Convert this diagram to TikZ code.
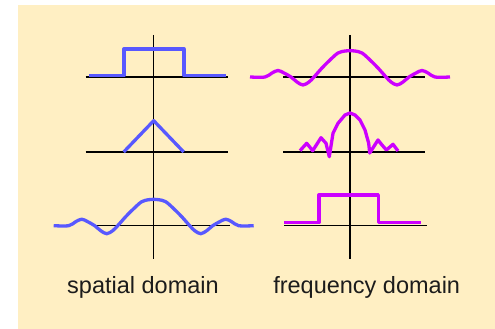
\documentclass[tikz,border=0pt]{standalone}
\usepackage{fontspec}
\setmainfont{Liberation Sans}
\usetikzlibrary{positioning}
\definecolor{creambg}{RGB}{255,239,195}
\definecolor{spatialblue}{RGB}{88,88,255}
\definecolor{freqmagenta}{RGB}{204,0,255}
\definecolor{labelgray}{RGB}{28,28,28}

% half a sinc, mirrored by the plot
\newcommand{\sincwave}{plot[smooth, tension=0.55] coordinates {
    (-100,0) (-85,0) (-78,4) (-72,6.5) (-66,4) (-59,0) (-53,-5) (-47,-8)
    (-41,-5) (-36,0) (-28,9) (-20,17) (-12,24) (-5,26) (0,26.4)
    (5,26) (12,24) (20,17) (28,9) (36,0) (41,-5) (47,-8) (53,-5)
    (59,0) (66,4) (72,6.5) (78,4) (85,0) (100,0)}}

\begin{document}
\begin{tikzpicture}[
    x=1pt, y=1pt,
    axis/.style={draw=black, line width=1.5pt},
    spatial/.style={draw=spatialblue, line width=3.3pt, line join=round},
    freq/.style={draw=freqmagenta, line width=3.3pt, line join=round},
    label/.style={font=\fontsize{23.5}{28}\selectfont, text=labelgray,
                  anchor=base, inner sep=0pt}
]
    \useasboundingbox (0,0) rectangle (495,329);
    \fill[creambg] (18,0) rectangle (495,324);

    % origins of the six plots
    \coordinate (s1) at (153.7,252);
    \coordinate (s2) at (153.7,177);
    \coordinate (s3) at (153.7,103.3);
    \coordinate (f1) at (350,252);
    \coordinate (f2) at (350,177);
    \coordinate (f3) at (350,103.3);

    % axes
    \draw[axis] (153.7,294) -- (153.7,70);
    \draw[axis] (350,294) -- (350,70);
    \draw[axis] ([xshift=-68pt]s1) -- ([xshift=74pt]s1);
    \draw[axis] ([xshift=-68pt]s2) -- ([xshift=74pt]s2);
    \draw[axis] ([xshift=-59pt]s3) -- ([xshift=76pt]s3);
    \draw[axis] ([xshift=-67pt]f1) -- ([xshift=75pt]f1);
    \draw[axis] ([xshift=-67pt]f2) -- ([xshift=75pt]f2);
    \draw[axis] ([xshift=-66pt]f3) -- ([xshift=77pt]f3);

    % spatial domain
    \draw[spatial, shift={(s1)}] (-64.4,1.3) -- (-29.7,1.3) -- (-29.7,28)
        -- (30.3,28) -- (30.3,1.3) -- (72,1.3);
    \draw[spatial, shift={(s2)}] (-30,0) -- (0,31.3) -- (30,0);
    \draw[spatial, shift={(s3)}] \sincwave;

    % frequency domain
    \draw[freq, shift={(f1)}] \sincwave;
    \draw[freq, shift={(f2)}] (-50,1.3) -- (-43.3,8.7) -- (-37.3,1.3)
        -- (-29,14.3) -- (-24,8.7) -- (-20.7,-4.7) -- (-17,18.7)
        -- (-12,28.7) -- (-5,37) -- (0,39) -- (5,37) -- (10,32)
        -- (15,22) -- (18.7,8.7) -- (19.7,-1) -- (28,12) -- (32,7)
        -- (36.4,2) -- (43,7.7) -- (48,1);
    \draw[freq, shift={(f3)}] (-65.7,3) -- (-31,3) -- (-31,30.7)
        -- (28.3,30.7) -- (28.3,3) -- (71,3);

    % captions
    \node[label] (spatial) at (143,35) {spatial domain};
    \node[label] (frequency) at (366.7,35) {frequency domain};
\end{tikzpicture}
\end{document}
